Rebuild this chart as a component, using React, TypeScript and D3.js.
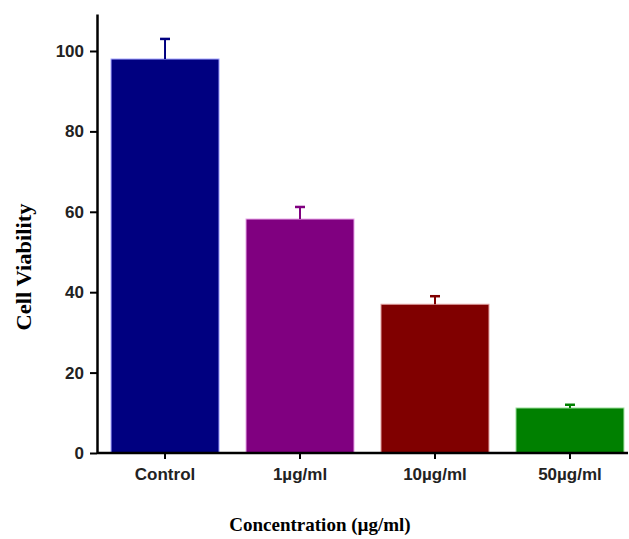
import { useEffect, useRef } from "react";
import * as d3 from "d3";

const categories = ["Control", "1µg/ml", "10µg/ml", "50µg/ml"];
const viability = [98, 58.2, 37, 11.2];
const errors = [5, 3, 2, 0.8];
const barColors = ["#000080", "#800080", "#800000", "#008000"];
const edgeColors = ["#a0a0ff", "#e6a0e6", "#e0a0a0", "#a0e0a0"];
const yTicks = [0, 20, 40, 60, 80, 100];

const App = () => {
    const ref = useRef<SVGSVGElement>(null);

    useEffect(() => {
        const width = 629;
        const height = 539;
        const svg = d3.select(ref.current);
        svg.selectAll("*").remove();

        const x = d3.scaleBand<string>()
            .domain(categories)
            .range([97, 638])
            .paddingInner(0.2)
            .paddingOuter(0.104);
        const y = d3.scaleLinear().domain([0, 109.2]).range([453, 14]);

        // bars
        svg.selectAll(".bar")
            .data(categories)
            .enter()
            .append("rect")
            .attr("x", (d) => x(d)!)
            .attr("y", (d, i) => y(viability[i]))
            .attr("width", x.bandwidth())
            .attr("height", (d, i) => y(0) - y(viability[i]))
            .attr("fill", (d, i) => barColors[i])
            .attr("stroke", (d, i) => edgeColors[i])
            .attr("stroke-width", 1);

        // error bars
        const err = svg.selectAll(".err")
            .data(categories)
            .enter()
            .append("g")
            .attr("stroke", (d, i) => barColors[i])
            .attr("stroke-width", 2);
        err.append("line")
            .attr("x1", (d) => x(d)! + x.bandwidth() / 2)
            .attr("x2", (d) => x(d)! + x.bandwidth() / 2)
            .attr("y1", (d, i) => y(viability[i]))
            .attr("y2", (d, i) => y(viability[i] + errors[i]));
        err.append("line")
            .attr("x1", (d) => x(d)! + x.bandwidth() / 2 - 5)
            .attr("x2", (d) => x(d)! + x.bandwidth() / 2 + 5)
            .attr("y1", (d, i) => y(viability[i] + errors[i]))
            .attr("y2", (d, i) => y(viability[i] + errors[i]))
            .attr("stroke-width", 2.5);

        // y axis
        const yAxis = svg.append("g")
            .attr("transform", "translate(97,0)")
            .call(d3.axisLeft(y).tickValues(yTicks).tickSize(7).tickPadding(6).tickSizeOuter(0));
        yAxis.select(".domain").attr("stroke", "#000").attr("stroke-width", 2.5);
        yAxis.selectAll(".tick line").attr("stroke-width", 2);
        yAxis.selectAll("text")
            .attr("font-family", "Liberation Sans, Arial, sans-serif")
            .attr("font-weight", "bold")
            .attr("font-size", 17)
            .attr("fill", "#222");

        // x axis
        const xAxis = svg.append("g")
            .attr("transform", "translate(0,453)")
            .call(d3.axisBottom(x).tickSize(6).tickPadding(9).tickSizeOuter(0));
        xAxis.select(".domain").attr("d", "M97,0H628").attr("stroke", "#000").attr("stroke-width", 2.5);
        xAxis.selectAll(".tick line").attr("stroke-width", 2);
        xAxis.selectAll("text")
            .attr("font-family", "Liberation Sans, Arial, sans-serif")
            .attr("font-weight", "bold")
            .attr("font-size", 17)
            .attr("fill", "#222");

        // titles
        svg.append("text")
            .attr("transform", `translate(31,267) rotate(-90)`)
            .attr("text-anchor", "middle")
            .attr("font-family", "Liberation Serif, Times New Roman, serif")
            .attr("font-weight", "bold")
            .attr("font-size", 21)
            .attr("textLength", 127)
            .attr("lengthAdjust", "spacingAndGlyphs")
            .text("Cell Viability");

        svg.append("text")
            .attr("x", 320)
            .attr("y", 531)
            .attr("text-anchor", "middle")
            .attr("font-family", "Liberation Serif, Times New Roman, serif")
            .attr("font-weight", "bold")
            .attr("font-size", 19)
            .text("Concentration (µg/ml)");

        svg.attr("width", width).attr("height", height);
    }, []);

    return (
        <svg ref={ref} width={629} height={539} style={{ position: "absolute", left: 0, top: 0, background: "#fff" }} />
    );
};

export default App;
